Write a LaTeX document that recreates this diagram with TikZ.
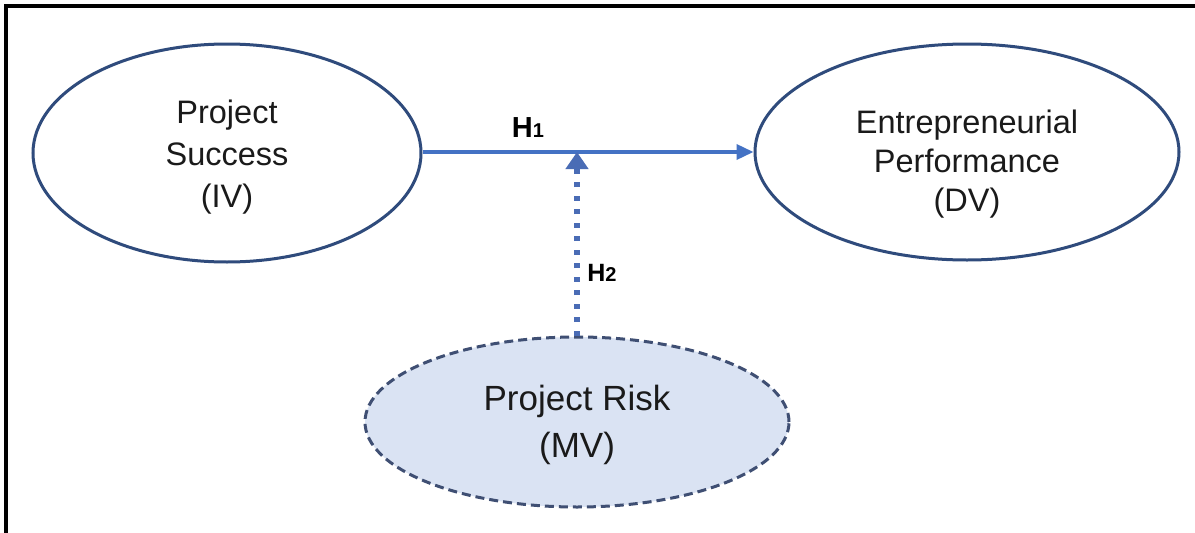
\documentclass[tikz,border=0pt]{standalone}
\usepackage{fontspec}
\setmainfont{Liberation Sans}
\usetikzlibrary{shapes.geometric,arrows.meta}
\definecolor{ellline}{HTML}{2F4B7C}
\definecolor{arrowblue}{HTML}{4472C4}
\definecolor{dotblue}{HTML}{4A6CB5}
\definecolor{riskfill}{HTML}{DAE3F3}
\definecolor{riskline}{HTML}{3F4F73}
\definecolor{txt}{HTML}{1A1A1A}
\tikzset{
  varellipse/.style={ellipse, draw=ellline, line width=3pt, inner sep=0pt, fill=white},
  riskellipse/.style={ellipse, draw=riskline, line width=3pt, inner sep=0pt, fill=riskfill,
    dash pattern=on 9pt off 5pt},
  vartext/.style={text=txt, align=center, inner sep=0pt},
  hyplabel/.style={text=black, inner sep=0pt},
  mainarrow/.style={draw=arrowblue, line width=3.6pt, -{Triangle[length=17pt,width=15pt]}},
  modarrow/.style={draw=dotblue, line width=5.5pt, dash pattern=on 5pt off 8.5pt,
    -{Triangle[length=17pt,width=22pt,fill=dotblue]}}
}
\begin{document}
\begin{tikzpicture}[x=1pt,y=-1pt]
  \useasboundingbox (0,0) rectangle (1195,533);
  \fill[white] (0,0) rectangle (1195,533);
  % outer frame, open to the right and bottom
  \draw[black, line width=3.5pt] (6,533) -- (6,6) -- (1195,6);

  % variables
  \node[varellipse, minimum width=388pt, minimum height=218pt] (ps) at (227,153) {};
  \node[varellipse, minimum width=424pt, minimum height=216pt] (ep) at (967,152) {};
  \node[riskellipse, minimum width=424pt, minimum height=170pt] (pr) at (577,422) {};

  \node[vartext, font=\fontsize{32.5}{42}\selectfont] (pstext) at (227,157)
    {Project\\Success\\(IV)};
  \node[vartext, font=\fontsize{32.5}{39}\selectfont] (eptext) at (967,164)
    {Entrepreneurial\\Performance\\(DV)};
  \node[vartext, font=\fontsize{35}{47}\selectfont] (prtext) at (577,425)
    {Project Risk\\(MV)};

  % direct effect and moderation
  \coordinate (join) at (577,152);
  \draw[mainarrow] (ps.east |- join) -- (ep.west |- join);
  \draw[modarrow] (pr.north) -- (join);

  \node[hyplabel, font=\bfseries\fontsize{29}{32}\selectfont] (h1) at (528,128)
    {H\fontsize{20}{22}\selectfont 1};
  \node[hyplabel, font=\bfseries\fontsize{25}{28}\selectfont] (h2) at (602,273)
    {H\fontsize{20}{22}\selectfont 2};
\end{tikzpicture}
\end{document}
